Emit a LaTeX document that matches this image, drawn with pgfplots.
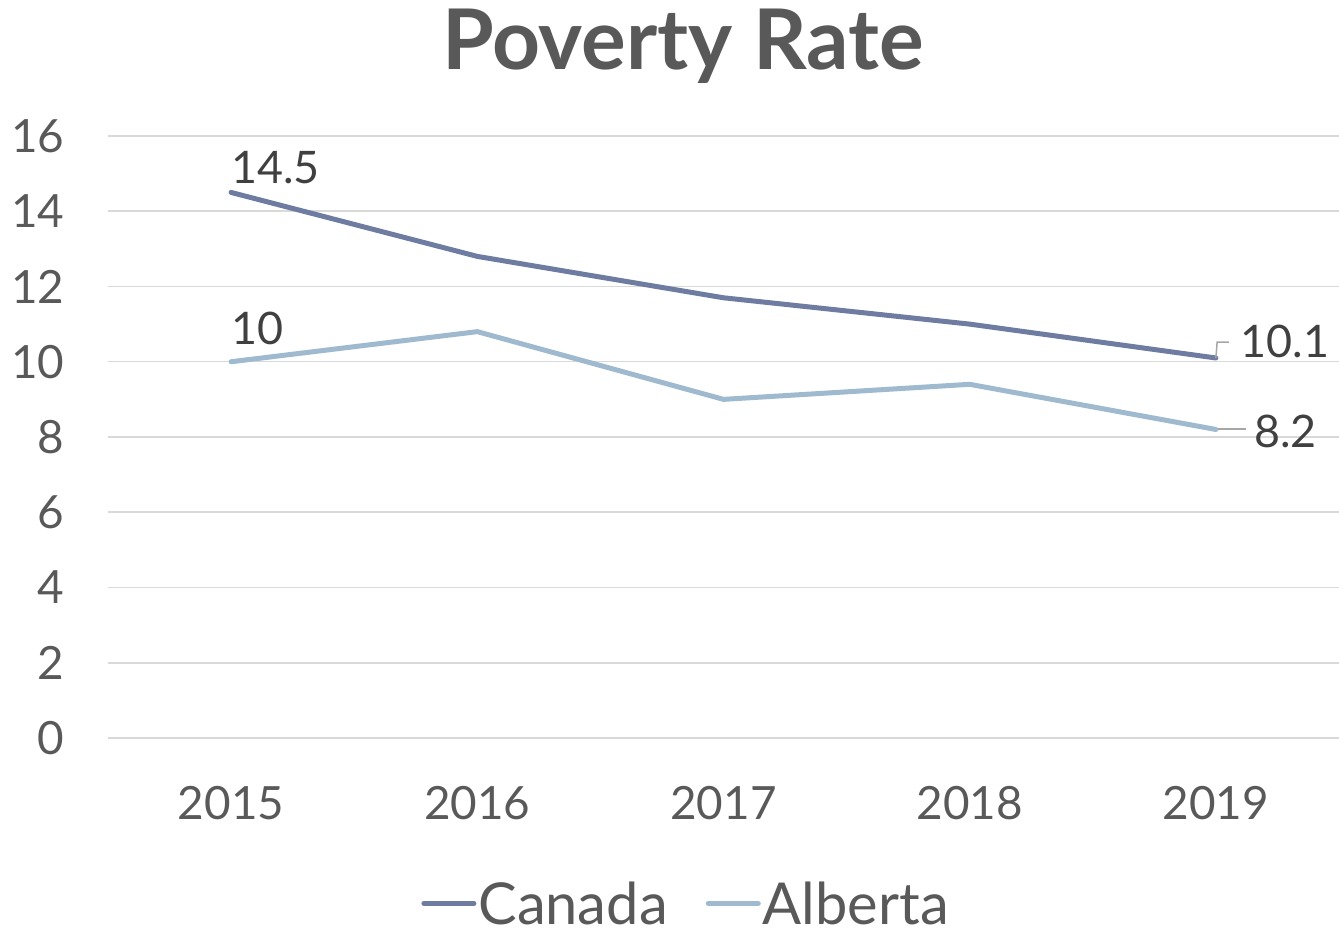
\documentclass[border=0pt]{standalone}
\usepackage{fontspec}
\setmainfont{Lato}
\usepackage{pgfplots}
\pgfplotsset{compat=1.18}
\definecolor{canada}{HTML}{6F7CA2}
\definecolor{alberta}{HTML}{9FB9CE}
\definecolor{txt}{HTML}{595959}
\definecolor{lbl}{HTML}{404040}
\definecolor{grd}{HTML}{D9D9D9}
\definecolor{lead}{HTML}{A6A6A6}
\begin{document}
\begin{tikzpicture}[x=1bp,y=1bp]
\useasboundingbox (0,0) rectangle (1339,936);
\begin{axis}[
  at={(108bp,198bp)}, anchor=south west,
  width=1231bp, height=602bp, scale only axis,
  xmin=-0.5, xmax=4.5, ymin=0, ymax=16,
  ytick={0,2,...,16}, xtick={0,1,2,3,4},
  xticklabels={2015,2016,2017,2018,2019},
  axis line style={draw=none},
  ymajorgrids, grid style={grd, line width=1.5bp},
  major tick length=0pt,
  /pgf/number format/assume math mode=true,
  tick label style={font=\fontsize{46}{50}\selectfont, text=txt},
  yticklabel style={xshift=-40bp},
  xticklabel style={yshift=-45bp},
  legend style={at={(0.4696,-0.275)}, anchor=center, draw=none, fill=none,
    inner sep=0pt, nodes={inner sep=2bp},
    font=\fontsize{58}{62}\selectfont, text=txt, legend columns=2,
    /tikz/every even column/.append style={column sep=36bp}},
  legend image code/.code={\draw[#1, line width=5bp, line cap=round] (0bp,0bp) -- (50bp,0bp);},
  clip=false,
]
\addplot[canada, line width=5bp, line cap=round, line join=round] coordinates {(0,14.5) (1,12.8) (2,11.7) (3,11.0) (4,10.1)};
\addlegendentry{Canada}
\addplot[alberta, line width=5bp, line cap=round, line join=round] coordinates {(0,10.0) (1,10.8) (2,9.0) (3,9.4) (4,8.2)};
\addlegendentry{Alberta}
\draw[lead, line width=1.5bp] (axis cs:4,10.1) -- (axis cs:4.005,10.52) -- (axis cs:4.053,10.52);
\draw[lead, line width=1.5bp] (axis cs:4.008,8.21) -- (axis cs:4.121,8.21);
\begin{scope}[every node/.style={font=\fontsize{45}{50}\selectfont, text=lbl, inner sep=0pt, anchor=base west}]
\node at (axis cs:0,14.75) {14.5};
\node at (axis cs:0,10.45) {10};
\node at (axis cs:4.101,10.1) {10.1};
\node at (axis cs:4.154,7.71) {8.2};
\end{scope}
\end{axis}
\node[font=\bfseries\fontsize{84}{86}\selectfont, text=txt, anchor=base] at (683,866) {Poverty Rate};
\end{tikzpicture}
\end{document}
